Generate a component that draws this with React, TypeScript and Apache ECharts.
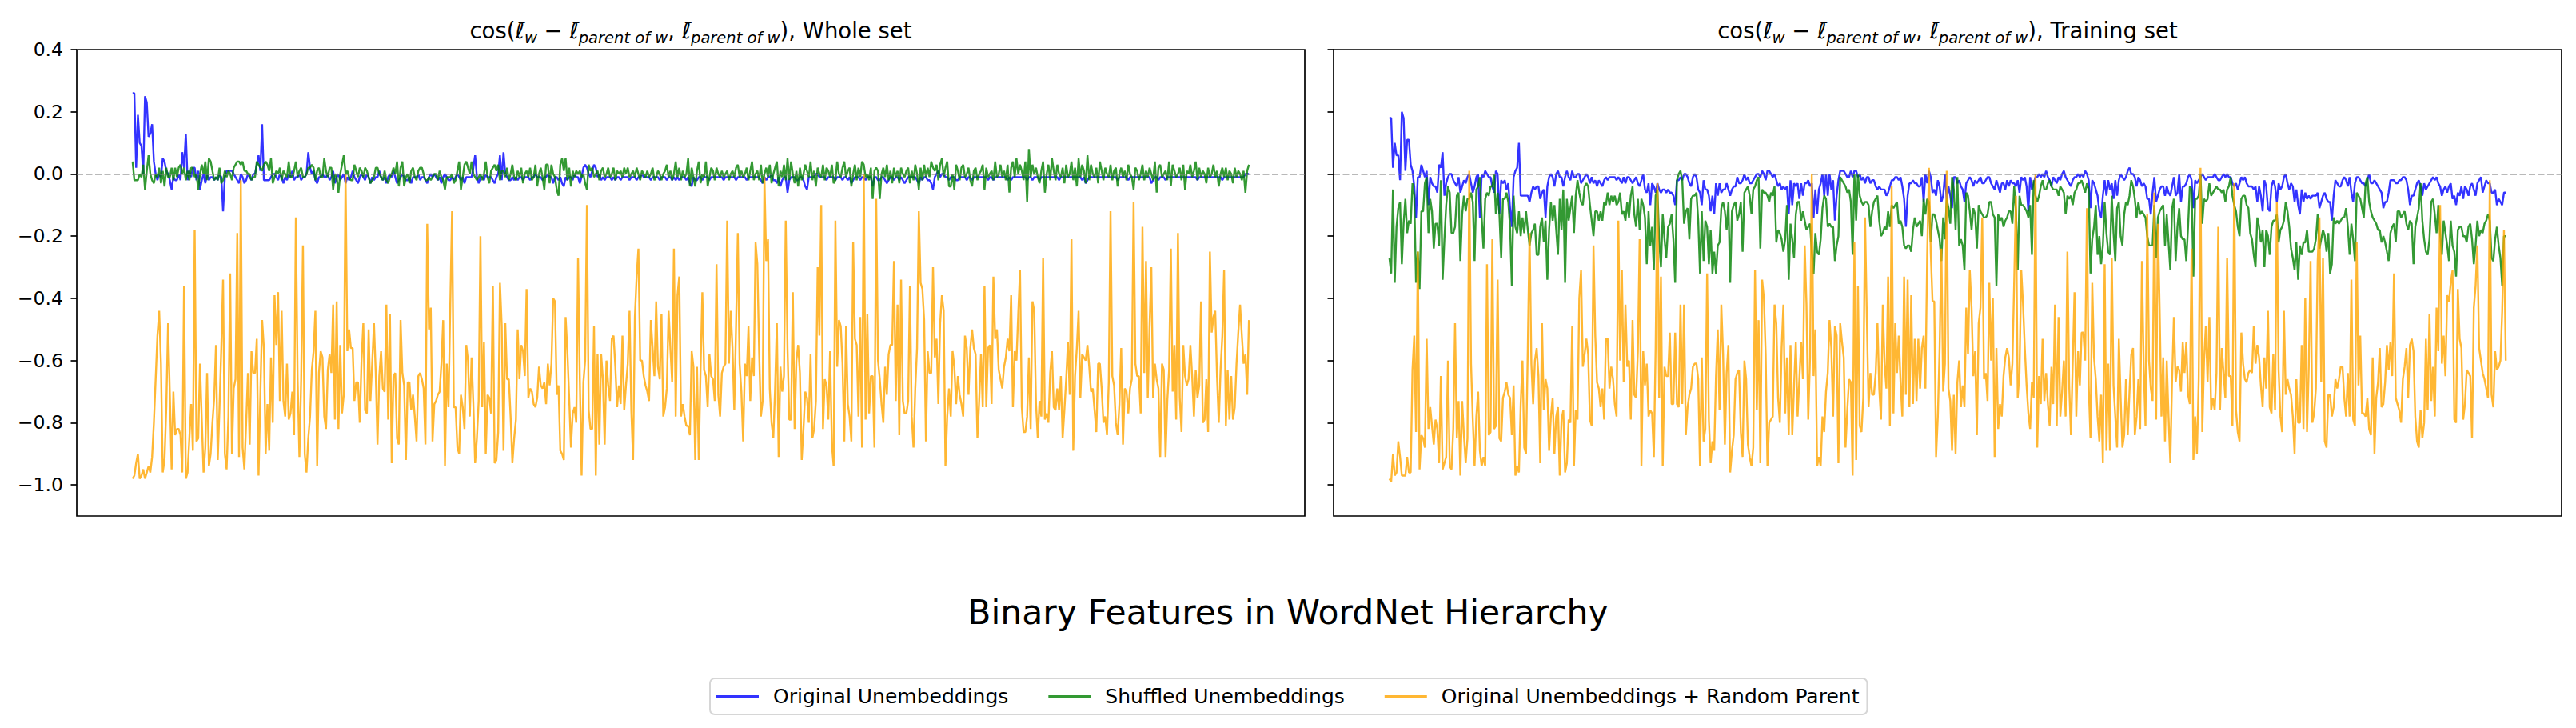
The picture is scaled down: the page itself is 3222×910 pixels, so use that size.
import React, { useEffect, useRef } from "react";
import * as echarts from "echarts";

// Values are cosine similarities in hundredths.
const VALUE_SCALE = 100;

const wholeOriginal = [
  26,26,2,19,10,9,0,25,23,12, 13,16,4,0,-2,0,-1,5,4,1, 0,-2,-5,-1,-2,-2,0,-2,7,2,
  13,-2,1,-1,2,2,-2,1,-5,-2, 0,-3,0,-2,-1,-1,-2,-1,-2,0, -1,-12,-1,1,1,1,1,0,-1,-2,
  -3,0,-1,-3,-2,0,-1,-2,0,0, 3,6,1,16,-2,-2,-2,-2,-1,0, 0,-1,-2,0,-1,-3,-1,-2,0,-1,
  1,-2,-1,-1,0,-2,-1,-1,0,7, 2,0,1,-2,-3,-1,-1,0,-1,-1, 0,-2,-1,1,-3,-1,0,-2,-1,0,
  -3,-1,-2,-1,1,-1,-2,-3,-1,0, -1,-2,0,-1,-3,-1,-2,-1,-1,1, -1,-2,-1,-3,-1,0,-1,1,-1,-3,
  -2,-1,0,-1,-2,-2,-1,-3,-1,-1, -1,0,-2,-1,-1,-2,-3,-1,0,-1, 0,-1,-2,-1,-3,-1,0,-1,-2,-2,
  -1,-2,-1,0,-1,-2,-1,-3,-1,-1, -1,-1,2,6,-1,-3,-1,-1,-2,0, -1,-1,-1,-2,-3,-1,0,6,-2,
  7,0,-1,-2,-2,-1,-2,-1,-2,-1, -1,-2,-1,-1,-1,-2,-1,-1,0,-1, -1,-1,-2,-1,-1,0,-1,-1,-3,-1,
  -1,-2,-1,-3,-4,-1,-2,-1,-1,-2, 0,-1,-1,-3,-1,2,3,2,0,-1, 1,3,2,-1,0,-2,-1,-2,-1,-1,
  -1,-2,-1,-2,-1,-1,-2,-1,-1,-1, -1,-2,-1,-1,-1,-2,-1,-1,0,-1, -1,-1,-1,-2,-1,-1,-1,-1,-2,-1,
  -1,-1,-2,-1,-1,-2,-1,-2,-1,-2, -1,-1,-1,-2,-1,-3,-4,-1,-2,-2, -1,-1,-2,-1,-1,-1,-2,-1,-1,-1,
  -1,-1,-1,-1,-2,-1,-1,-1,-1,-1, -1,-2,-1,-1,-1,-1,-1,-2,-1,-1, -1,-1,-1,-1,-1,-2,-3,-1,-2,-1,
  -1,0,-2,-2,-3,-1,-4,-2,-1,-1, -6,-2,-1,-1,-1,-2,-2,-1,-1,-2, -4,-5,-1,-1,-1,-1,0,0,-1,-1,
  -1,-1,-2,-1,-1,-1,-1,-2,-1,-1, -1,-2,-1,-1,-2,-1,-3,-2,-1,-1, -1,-2,-1,-1,-2,-1,-1,-1,-4,-1,
  -1,-2,
  -2,-1,-1,-2,-3,-2,-1,-1, -2,-1,-1,-2,-1,-2,-3,-2,-1,-1, -1,-1,-1,-2,-3,-1,-2,-1,-1,-2,
  -2,-3,-5,-1,0,1,-1,0,0,-1, -1,-2,-1,-1,-1,-2,-2,-1,-1,-1, -1,-2,-1,-1,-2,-1,-1,-1,-1,-1,
  -1,-1,-1,-2,-1,-1,-2,-1,-1,-1, -1,-1,-1,-1,-2,-1,-2,-1,-1,-1, -1,-1,-1,-1,-1,-2,-1,-1,-2,-1,
  -1,-1,-2,-1,-1,-1,-1,-1,-1,-1, -1,-1,-1,-2,-1,-1,-1,-1,-1,-1, -1,-1,-1,-1,-1,-1,-2,-1,-3,-2,
  -1,-1,-1,-1,-1,-1,-1,-1,-1,-1, -1,-1,-1,-1,-1,-1,-2,-1,-1,-1, -1,-1,-2,-1,-1,-1,-1,-1,-1,-1,
  -1,-1,-1,-1,-1,-3,-2,-1,-1,-2, -1,-1,-1,-2,-1,-1,-1,-1,-1,-1, -1,-1,-1,-1,-1,-1,-1,-1,-1,-1,
  -1,-2,-1,-1,-1,-1,-1,-1,-1,-1, -1,-1,-1,-1,-1,-2,-1,-1,-1,-1, -1,-1,-1,-1,-1,-1,-1,-1,0,0,
  0,
];

const wholeShuffled = [
  4,-2,-2,-2,0,-1,3,-5,1,6, 0,-2,-3,0,-1,2,-3,1,-4,2, -1,-1,2,-2,2,-1,2,3,0,2,
  -2,1,-2,2,2,-1,0,-5,0,3, 0,4,-2,5,4,1,-2,-1,-2,2, -3,-2,1,-1,1,0,-2,2,3,4,
  4,3,4,1,1,0,0,-2,-1,-1, 4,3,2,1,3,4,3,1,5,-3, -1,1,0,2,-2,1,0,-1,4,-1,
  -1,1,4,-1,1,2,-1,-1,0,2, 2,3,2,-2,1,2,-1,-1,5,1, -1,2,2,-5,0,-1,-6,0,3,6,
  0,1,-1,-2,-2,3,1,-1,2,1, -1,2,1,-1,-3,-2,-1,2,2,0, -1,-2,1,-2,-3,-1,0,2,0,4,
  -4,2,4,-4,-1,0,-3,1,2,-1, -2,1,2,2,0,-2,-2,-1,-2,-1, 0,0,-2,1,-1,-2,-5,-1,-1,-1,
  0,-3,-2,1,4,-5,-1,3,4,2, 0,4,0,-1,-2,-1,0,-2,0,4, -1,-3,1,2,3,1,3,-2,1,
  1,-1,2,-2,0,3,-1,-2,1,-1, 2,-3,0,1,-1,2,-2,-1,3,-4, 0,2,-1,-5,3,3,-3,3,0,-1,
  -5,-7,3,5,1,5,-2,2,-4,1, -1,1,0,1,-1,0,-3,-5,3,1, 2,-1,0,1,-2,1,2,-1,0,2,
  -1,0,2,-2,1,0,1,-1,2,0, 2,-1,0,1,-1,2,0,-2,1,0, -1,1,-1,0,2,-2,-1,1,0,-2,
  0,1,3,-1,1,-2,0,4,-1,2, -2,1,-1,0,5,-4,2,-1,-4,1, 4,-3,0,-1,4,-4,-1,2,1,-2,
  2,0,-1,1,-1,0,1,-2,0,1, -1,2,3,-1,1,-1,0,2,-2,1, 4,-2,0,1,-2,3,-3,0,2,-1,
  3,-3,0,2,4,-4,1,-1,3,-2, 5,-2,4,0,-3,1,-4,2,-2,0, 3,1,-1,4,-2,1,-4,2,0,-1,
  3,-2,2,1,-1,3,-3,-2,4,0, -1,2,4,-1,1,2,-4,0,3,-2, 2,-1,4,3,-1,0,-2,2,-8,1,
  2,1,
  -8,0,2,-1,3,-2,1,-3, 2,-1,1,-3,2,0,-1,1,2,-3, 1,-2,3,0,-5,2,-2,3,-1,2,
  -1,4,2,1,3,-2,3,5,-1,2, 4,-4,-4,0,-5,3,1,-2,2,3, -1,0,2,-2,-4,1,2,-2,0,1,
  3,-5,2,-1,0,1,-2,4,-1,0, 3,-1,1,-2,3,-6,2,4,-1,5, 0,3,1,-2,4,-9,8,-1,3,0,
  2,-1,-3,1,4,-6,0,3,-2,5, 1,-2,3,0,-1,2,-3,3,-1,0, 4,-2,2,-4,5,-1,3,1,-3,6,
  -2,3,0,-1,2,-3,4,1,-2,2, 0,-1,3,-2,1,2,-4,0,2,-1, 1,-2,3,0,-1,-5,2,1,-2,0,
  3,-2,1,-1,2,0,-2,4,-6,2, 3,-1,0,1,-2,4,-4,3,1,-1, 0,2,-2,3,-5,1,0,3,-1,1,
  4,-2,2,-1,1,0,-3,2,-1,0, 3,-1,1,-4,0,2,-1,2,-2,1, 0,-3,2,-1,1,0,-2,1,-6,1,
  3,
];

const wholeRandomParent = [
  -98,-97,-93,-90,-98,-97,-95,-98,-96,-94, -96,-91,-80,-66,-52,-44,-61,-96,-92,-75,
  -48,-71,-95,-70,-84,-82,-82,-84,-96,-36, -98,-96,-85,-74,-89,-18,-86,-85,-61,-79,
  -96,-88,-64,-94,-90,-80,-72,-55,-92,-75, -56,-34,-90,-95,-78,-32,-90,-69,-66,-19,
  -91,-2,-88,-95,-80,-64,-87,-57,-64,-64, -53,-97,-71,-47,-56,-90,-74,-89,-59,-80,
  -39,-55,-38,-73,-44,-73,-78,-61,-79,-77, -70,-84,-14,-66,-91,-66,-23,-90,-96,-85,
  -78,-63,-57,-44,-94,-64,-57,-59,-78,-82, -63,-58,-64,-42,-79,-41,-82,-55,-77,-71,
  0,-57,-50,-56,-56,-73,-67,-67,-80,-60, -48,-76,-77,-50,-73,-61,-48,-64,-87,-65,
  -57,-69,-70,-42,-79,-45,-93,-65,-64,-85, -87,-47,-64,-68,-92,-67,-67,-76,-71,-78,
  -86,-65,-64,-66,-69,-87,-16,-50,-43,-86, -74,-73,-71,-70,-61,-47,-94,-61,-75,-42,
  -12,-75,-75,-88,-90,-71,-75,-82,-55,-60, -78,-59,-74,-93,-85,-73,-20,-75,-54,-90,
  -71,-72,-77,-36,-93,-92,-83,-35,-49,
  -89,-48,-66,-66,-78,-93,-85,-79,-50,-66, -55,-57,-65,-37,-72,-69,-70,-74,-75,-72,
  -62,-68,-69,-67,-74,-61,-68,-61,-40,-41, -71,-68,-89,-90,-92,-46,-57,-72,-88,-77,
  -75,-80,-27,-66,-97,-67,-60,-10,-76,-82, -82,-49,-97,-58,-87,-58,-66,-87,-60,-68,
  -73,-53,-52,-62,-75,-68,-74,-52,-76,-68, -61,-44,-76,-92,-46,-33,-24,-60,-60,-65,
  -68,-70,-73,-47,-56,-65,-41,-62,-66,-45, -78,-75,-69,-44,-56,-67,-24,-78,-39,-33,
  -78,-74,-78,-81,-81,-84,-57,-62,-92,-62, -92,-63,-38,-63,-65,-75,-58,-65,-66,-73,
  -29,-71,-78,-64,-62,-61,-15,-61,-44,-56, -76,-49,-19,-61,-70,-86,-61,-65,-49,-73,
  -59,-65,-22,-29,-57,-78,-73,-1,-28,-21, -69,-80,-85,-69,-48,-91,-62,-70,-65,-15,
  -56,-79,-79,-38,-82,-60,-55,-64,-92,-82, -70,-72,-80,-58,-85,-82,-73,-30,-52,-10,
  -82,-66,-68,-79,-57,-87,-94,-15,-62,-47, -49,-61,-86,-49,-74,-78,-86,-22,-53,-55,
  -78,-46,-88,0,-79,-45,-77,-65,-65,-88, -8,-60,
  -66,-74,-80,-62,-71,-58,-55,-55, -28,-73,-42,-84,-34,-73,-77,-77,-73,-36,
  -78,-88,-69,-56,-12,-35,-37,-47,-86,-57, -64,-64,-30,-59,-53,-74,-48,-39,-44,-94,
  -78,-69,-78,-57,-62,-74,-65,-71,-74,-78, -52,-56,-71,-56,-50,-56,-58,-85,-73,-58,
  -75,-36,-75,-56,-55,-74,-33,-53,-50,-63, -66,-69,-62,-59,-53,-57,-39,-75,-57,-60,
  -45,-31,-75,-83,-83,-78,-59,-82,-41,-44, -74,-85,-73,-78,-27,-79,-77,-80,-64,-57,
  -75,-76,-69,-76,-65,-85,-76,-66,-54,-71, -21,-89,-65,-56,-44,-72,-58,-59,-60,-55,
  -62,-70,-69,-76,-83,-61,-61,-69,-80,-78, -84,-67,-12,-65,-68,-80,-84,-74,-56,-87,
  -69,-70,-77,-69,-66,-9,-61,-65,-65,-77, -17,-64,-28,-72,-49,-30,-72,-61,-66,-69,
  -91,-61,-63,-91,-73,-63,-24,-70,-55,-79, -19,-72,-83,-55,-65,-68,-66,-55,-65,-78,
  -63,-72,-68,-41,-80,-79,-66,-83,-25,-51, -46,-44,-65,-80,-63,-52,-31,-81,-63,-79,
  -65,-79,-75,-61,-51,-42,-52,-61,-58,-71, -47,
];

const trainOriginal = [
  18,18,2,10,6,6,-2,20,18,1, 11,11,3,1,-4,-14,-1,-1,3,1, -1,1,-10,-1,-3,-4,-4,-6,3,2,
  7,-7,-3,-1,0,0,-2,-3,-4,-1, -6,-4,-2,-3,-1,0,-3,-6,-4,-1, 0,-14,0,-1,1,0,-1,-1,-4,-6,
  1,0,-13,-2,-3,-2,-5,-3,-11,-17, -1,1,2,10,-7,-7,-7,-7,-7,-9, -6,-4,-5,-4,-4,-8,-6,-5,-14,-4,
  -1,0,-1,-4,0,1,-1,-1,-4,-1, 1,-1,-2,1,-1,-1,0,0,-3,-2, -1,0,-1,-3,-1,-3,-2,-4,-2,-3,
  -4,-2,-1,-2,-1,-1,-1,-1,-2,-1, -2,-3,-1,-3,-1,-1,-2,-3,-2,-1, -3,-4,-2,0,-5,-6,-3,-10,-3,-4,
  -6,-3,-5,-6,-5,-5,-6,-5,-6,-6, -7,-10,-2,-2,-1,-2,0,0,-1,-3, -4,-1,0,-1,-5,-6,-10,-2,-5,-5,
  -7,-12,-7,-13,-3,-7,-3,-6,-5,-5, -3,-5,-7,-5,-4,-4,-1,-3,-3,-2, 0,-2,-1,-3,-3,-2,-1,0,
  0,-1,1,0,-2,1,1,0,-1,0, -2,-4,-3,-5,-4,-5,-4,-13,-2,-10, -3,-4,-3,-8,-3,-7,-3,-3,-2,-4,
  -3,-14,-5,-13,-5,-3,0,-7,0,-7, 0,-5,-2,-15,-7,-2,1,1,1,0, -1,-1,1,-1,1,1,-1,0,-2,-1,
  -3,-1,-1,-3,-2,-2,-4,-5,-4,-5, -5,-5,-7,-6,-4,-2,-2,-1,-1,-2, -1,-4,-8,-17,-7,-3,-3,-2,-3,-3,
  -4,-4,-1,-9,0,-3,1,-1,-6,-5, -7,-2,-4,-9,-7,0,-8,-4,-7,-11, -1,-1,-3,-2,-4,-5,-9,-3,-2,-1,
  -2,-4,-2,-3,-2,-1,-3,-3,-2,-1, -1,-3,-4,-5,-2,-4,-6,-3,-3,-5, -2,-4,-2,-3,-3,-4,-2,-6,-1,-2,
  -1,-4,-12,-1,-5,-3,-1,-1,0,-1, 0,-1,1,-1,-2,-4,-1,-2,-3,-1, -2,0,1,-1,-2,-3,-4,-2,-1,-1,
  0,-1,0,-1,1,0,-2,-11,-2,-3, -5,-7,-12,-14,-7,-2,-7,-2,-5,-3, -8,-2,-7,-2,0,-1,-2,-1,1,2,
  0,0,
  -1,-4,-1,-2,-4,-3,-4,-8,-8,-13, -6,-1,-9,-7,-5,-4,-4,-7,-4,-6, -7,-4,-1,-7,-6,0,-9,-4,-4,-3,
  -1,0,-2,-11,-2,-3,-2,-1,0,-1, -2,-1,-1,-1,-1,0,-1,-2,-2,-1, 0,-1,0,-1,-1,-3,-4,-3,-5,-3,
  -1,-2,-1,-3,-4,-4,-4,-5,-4,-9, -4,-7,-12,-2,-4,-11,-12,-4,-2,-4, -9,-3,-5,-4,-1,0,-3,-5,-3,-4,
  -9,-5,-10,-13,-5,-9,-6,-8,-7,-8, -7,-7,-7,-6,-11,-9,-7,-6,-8,-9, -9,-15,-7,-2,-3,-4,-4,-2,-1,-2,
  -4,-1,-6,-9,-3,-1,-1,-2,-3,-3, -4,-2,0,-3,-3,-2,-3,-4,-5,-6, -11,-9,-9,-6,-2,-2,-2,-3,-3,-2,
  -2,-1,-1,-2,-5,-10,-7,-7,-5,-3, -2,-4,-7,-3,-5,-4,-3,-2,-1,-2, -1,-3,-4,-7,-5,-4,-6,-4,-3,-8,
  -7,-10,-6,-7,-4,-8,-4,-5,-7,-4, -3,-5,-7,-3,-2,-1,-6,-4,-2,-3, -3,-6,-6,-5,-10,-8,-9,-10,-6,-6,
];

const trainShuffled = [
  -27,-32,-5,-35,-17,-11,-9,-29,-16,-8, -19,-15,-16,-3,-7,-35,-25,-37,-12,-12,
  -3,-1,-19,-8,-12,-24,-16,-16,-23,-2, -34,-21,-10,-4,-6,-19,-19,-17,-7,-6,
  -28,-13,-7,-12,-8,-8,-6,-9,-28,-5, -4,-1,-14,-24,-8,-6,-7,-4,-4,0,
  -13,-6,-13,-27,-8,-8,-6,-9,-17,-36, -7,-17,-19,-12,-20,-14,-19,-12,-18,-23,
  -19,-18,-16,-26,-26,-17,-14,-22,-15,-34, -18,-9,-15,-10,-18,-26,-8,-18,-5,-35,
  -8,-15,-11,-7,-19,-7,-2,-6,-9,-10, -4,-3,-4,-10,-15,-20,-12,-12,-15,-12,
  -15,-9,-10,-6,-10,-7,-9,-7,-10,-9, -6,-13,-12,-15,-9,-14,-7,-4,-13,-17,
  -8,-18,-8,-10,-14,-29,-12,-23,-17,-31, -7,-5,-21,-30,-13,-21,-27,-17,-16,-13,
  -21,-35,-2,0,1,-2,-16,-12,-11,-21, -8,-7,-7,-6,-15,-32,-12,-28,-15,-17,
  -29,-18,-32,-25,-32,-23,-22,-11,-9,-12, -18,-9,-35,-12,-10,-9,-15,-13,-9,-25,
  -6,-5,-4,-7,-13,-5,-4,-2,
  -1,-24,-5,-6,-6,-7,-9,-6,-7,-4, -22,-18,-19,-21,-25,-21,-10,-34,-16,-21,
  -27,-13,-9,-9,-15,-12,-15,-18,-17,-16, -25,-32,-19,-25,-26,-21,-11,-7,-8,-17,
  -16,-17,-17,-28,-23,-20,-1,-2,-3,-4, -6,-5,-9,-26,0,-15,0,-7,-9,-10,
  -9,-9,-10,-17,-12,-9,-8,-7,-15,-20, -19,-17,-18,-12,-17,-10,-11,-10,-9,-16,
  -15,-17,-23,-24,-23,-23,-25,-18,-14,-17, -16,-15,-20,-8,-13,-8,-9,-22,-13,-13,
  -15,-18,-21,-28,-14,-21,-8,-11,-16,-1, -5,-18,-1,-23,-21,-23,-31,-6,-7,-12,
  -18,-11,-13,-24,-10,-12,-13,-14,-14,-13, -9,-9,-13,-14,-36,-13,-15,-14,-17,-15,
  -14,-12,-12,-16,-4,-12,-31,-7,-10,-10, -11,-12,-14,-10,-26,-2,-7,-9,-7,-4,
  -2,-5,-5,-3,-2,-4,-5,-5,-5,-7, -4,-5,-6,-13,-7,-8,-7,-10,-6,-5,
  -3,-3,-2,-4,-6,-3,-5,-32,-21,-17, -10,-26,-20,-29,-23,-9,-19,-25,-26,-7,
  -19,-28,-11,-9,-20,-23,-13,-9,-10,-7, -2,-4,
  -8,-14,-9,-13,-12,-13,-14,-20,-23,-23, -23,-10,-27,-14,-12,-11,-10,-23,-13,-22,
  -31,-11,-8,-28,-17,-11,-20,-21,-21,-28, -17,-4,-5,-33,-8,-8,-7,0,-16,-8,
  -9,-8,-3,-7,-6,-5,-4,-5,-5,-6, -5,-9,-5,-4,-1,-7,-10,-12,-17,-20,
  -8,-7,-7,-10,-11,-19,-21,-26,-30,-14, -17,-22,-18,-30,-18,-20,-26,-17,-15,-15,
  -13,-22,-18,-17,-15,-9,-12,-17,-24,-27, -31,-22,-34,-23,-26,-22,-22,-18,-25,-25,
  -25,-24,-21,-13,-24,-21,-18,-20,-25,-19, -32,-29,-14,-16,-15,-16,-15,-14,-14,-11,
  -17,-26,-16,-21,-28,-6,-7,-8,-11,-14, -3,-1,-9,-12,-14,-15,-16,-18,-18,-22,
  -20,-22,-25,-28,-19,-17,-16,-22,-12,-12, -14,-13,-12,-16,-18,-15,-16,-29,-17,-14,
  -11,-3,-15,-21,-25,-26,-21,-9,-8,-13, -19,-10,-19,-26,-15,-19,-23,-28,-15,-23,
  -25,-33,-18,-17,-17,-20,-20,-22,-17,-16, -21,-29,-23,-15,-20,-18,-19,-16,-15,-13,
  -15,-27,-28,-21,-17,-23,-27,-36,-20,-20,
];

const trainRandomParent = [
  -98,-99,-90,-97,-96,-86,-91,-97,-97,-97, -91,-96,-96,-63,-52,-83,-25,-95,-84,-85,
  -88,-53,-82,-75,-81,-87,-79,-82,-93,-65, -95,-93,-91,-60,-94,-95,-82,-48,-85,-73,
  -97,-73,-84,-93,-85,1,-61,-79,-94,-78, -70,-89,-94,-91,-94,-29,-84,-83,-21,-82,
  -81,-34,-85,-86,-72,-70,-67,-71,-72,-84, -68,-97,-94,-96,-74,-60,-88,-90,-56,-19,
  -61,-74,-60,-56,-65,-93,-48,-76,-66,-69, -89,-78,-72,-90,-78,-75,-97,-79,-76,-96,
  -93,-79,-80,-49,-94,-76,-79,-40,-31,-62, -58,-53,-58,-79,-81,-23,-52,-67,-69,-75,
  -69,-79,-53,-53,-69,-62,-66,-74,-78,-15, -60,-31,-67,-42,-62,-60,-79,-47,-71,-72,
  -57,-21,-94,-57,-68,-61,-78,-76,-77,-91, -56,-3,-72,-33,-94,-62,-65,-65,-51,-74,
  -74,-51,-74,-75,-42,-74,-42,-84,-75,-71, -69,-62,-61,-61,-66,-94,-59,-86,-82,-32,
  -79,-93,-86,-89,-65,-50,-76,-42,-58,-87, -64,-55,-96,-89,-84,-66,-64,-63,-83,-91,
  -60,-66,-87,-91,-94,-88,-31,-76,
  -47,-93,-34,-40,-58,-94,-80,-79,-78,-42, -48,-72,-80,-56,-42,-77,-59,-84,-55,-84,
  -68,-54,-78,-66,-54,-66,-23,-42,-79,-59, 0,-65,-50,-94,-91,-94,-78,-83,-70,-64,
  -47,-56,-78,-49,-52,-93,-48,-54,-59,-88, -76,-66,-67,-97,-22,-92,-36,-81,-83,-72,
  -14,-46,-75,-64,-71,-71,-64,-48,-69,-79, -42,-61,-69,-33,-81,-4,-77,-48,-64,-52,
  -67,-78,-33,-71,-34,-75,-39,-74,-53,-73, -53,-69,-56,-52,-69,-26,2,-25,-41,-41,
  -91,-78,-56,-24,-70,-61,1,-69,-73,-89, -71,-90,-67,-60,-75,-68,-75,-43,-58,-31,
  -43,-65,-57,-84,-48,-43,-14,-66,-64,-73, -35,-60,-40,-91,-56,-82,-74,-78,-65,-59,
  -56,-59,-68,-61,-35,-7,-72,-64,-31,-42, -56,-68,-77,-82,-67,-72,0,-88,-65,-74,
  -53,-73,-64,-74,-81,-62,-74,-42,-81,-46, -78,-70,-60,-78,-25,-68,-84,-61,-38,-78,
  -57,-68,-51,-51,-60,-11,-68,-85,-35,-59, -66,-78,-86,-71,-93,-29,-89,-61,-89,-27,
  -68,-78,-88,-53,-72,-88,-84,-66,-84,-70, -58,-56,
  -84,-78,-66,-82,-28,-62,-81,-13,-60,-69, -73,-6,-79,-16,-44,-78,-59,-86,-60,-78,
  -93,-66,-46,-67,-62,-63,-70,-54,-64,-54, -71,-74,-24,-92,-78,-90,-66,2,-83,-60,
  -49,-67,-46,-76,-72,-76,-64,-17,-76,-56, -64,-72,-27,-65,-65,-81,-3,-76,-83,-86,
  -51,-61,-66,-67,-64,-63,-64,-49,-61,-55, -59,-68,-75,-59,-69,-44,-75,-77,-58,-76,
  -9,-63,-78,-83,-44,-71,-66,-69,-71,-78, -90,-66,-80,-80,-55,-82,-40,-83,-62,-28,
  -80,-77,-69,-28,-14,-67,-27,-86,-88,-71, -71,-78,-75,-66,-69,-66,-62,-62,-72,-78,
  -64,-78,-34,-79,-81,-22,-68,-52,-77,-77, -78,-72,-82,-84,-59,-90,-72,-67,-56,-75,
  -74,-67,-55,-63,-54,-65,-32,-72,-74,-76, -80,-66,-62,-56,-72,-55,-53,-57,-78,-86,
  -88,-76,-85,-80,-53,-76,-45,-73,-62,-78, -43,-57,-10,-61,-52,-65,-39,-41,-35,-31,
  -79,-80,-37,-53,-56,-79,-74,-63,-64,-65, -85,-43,-36,-23,-56,-60,-64,-66,-69,-72,
  -2,-71,-75,-57,-63,-62,-60,-44,-18,-60,
];

const yTicks = [-1.0, -0.8, -0.6, -0.4, -0.2, 0.0, 0.2, 0.4];
const seriesNames = [
  "Original Unembeddings",
  "Shuffled Unembeddings",
  "Original Unembeddings + Random Parent",
];
const panelSubsets = ["Whole set", "Training set"];
const figureTitle = "Binary Features in WordNet Hierarchy";

const COLORS = ["rgba(0,0,255,0.8)", "rgba(0,128,0,0.8)", "rgba(255,165,0,0.8)"];
const FONT = "DejaVu Sans";
const W = 3222;
const H = 910;

const GRIDS = [
  { left: 96, top: 62, width: 1536, height: 583 },
  { left: 1668, top: 62, width: 1536, height: 583 },
];

const fmtTick = (v: number) => {
  const s = Math.abs(v).toFixed(1);
  return v < -1e-9 ? "\u2212" + s : s;
};

const L = "\u2113\u0304";
const titleText = (subset: string) =>
  `{m|cos(}{i|${L}}{s|w}{m| \u2212 }{i|${L}}{s|parent of w}{m|, }{i|${L}}{s|parent of w}{m|), ${subset}}`;

const titleRich = {
  m: { fontSize: 27.5, fontFamily: FONT, lineHeight: 38, verticalAlign: "middle", fill: "#000" },
  i: { fontSize: 27.5, fontFamily: FONT, fontStyle: "italic", lineHeight: 38, verticalAlign: "middle", fill: "#000" },
  s: { fontSize: 19.5, fontFamily: FONT, fontStyle: "italic", lineHeight: 38, verticalAlign: "bottom", fill: "#000" },
};

function buildOption() {
  const panels = [
    [wholeOriginal, wholeShuffled, wholeRandomParent],
    [trainOriginal, trainShuffled, trainRandomParent],
  ];

  const xAxis = panels.map((p, k) => {
    const n = Math.max(...p.map((a) => a.length));
    const pad = 0.05 * (n - 1);
    return { type: "value", gridIndex: k, min: -pad, max: n - 1 + pad, show: false };
  });

  const yAxis = panels.map((_, k) => ({
    type: "value",
    gridIndex: k,
    min: -1.1,
    max: 0.4,
    position: "left",
    splitLine: { show: false },
    axisLine: { show: false, onZero: false },
    axisTick: {
      show: true,
      customValues: yTicks,
      length: 7.5,
      inside: false,
      lineStyle: { color: "#000", width: 1.7 },
    },
    axisLabel: {
      show: k === 0,
      customValues: yTicks,
      formatter: fmtTick,
      margin: 17,
      color: "#000",
      fontSize: 23.5,
      fontFamily: FONT,
    },
  }));

  const series: any[] = [];
  panels.forEach((p, k) => {
    p.forEach((arr, j) => {
      series.push({
        type: "line",
        name: seriesNames[j],
        xAxisIndex: k,
        yAxisIndex: k,
        data: arr.map((v, i) => [i, v / VALUE_SCALE]),
        showSymbol: false,
        symbol: "none",
        color: COLORS[j],
        itemStyle: { color: COLORS[j] },
        lineStyle: { width: 2.4, color: COLORS[j] },
        z: 2 + j,
        silent: true,
      });
    });
    series.push({
      type: "line",
      xAxisIndex: k,
      yAxisIndex: k,
      data: [],
      silent: true,
      markLine: {
        silent: true,
        symbol: ["none", "none"],
        label: { show: false },
        lineStyle: { color: "rgba(128,128,128,0.55)", width: 2.1, type: [8, 3.5] },
        data: [{ yAxis: 0 }],
        z: 6,
      },
    });
  });

  return {
    animation: false,
    backgroundColor: "#fff",
    textStyle: { fontFamily: FONT },
    grid: GRIDS.map((g) => ({
      ...g,
      show: true,
      borderColor: "#000",
      borderWidth: 1.7,
      backgroundColor: "transparent",
      containLabel: false,
    })),
    xAxis,
    yAxis,
    legend: {
      data: seriesNames,
      left: 888,
      top: 848,
      orient: "horizontal",
      icon: "rect",
      itemWidth: 53,
      itemHeight: 3.2,
      itemGap: 50,
      padding: [8, 10, 8, 8],
      borderColor: "#d6d6d6",
      borderWidth: 2,
      borderRadius: 6,
      backgroundColor: "rgba(255,255,255,0.8)",
      selectedMode: false,
      textStyle: { fontSize: 25, fontFamily: FONT, color: "#000", padding: [0, 0, 0, 13], lineHeight: 29 },
    },
    graphic: [
      ...GRIDS.map((g, k) => ({
        type: "text",
        x: g.left + g.width / 2,
        y: 38,
        style: {
          text: titleText(panelSubsets[k]),
          rich: titleRich,
          align: "center",
          verticalAlign: "middle",
          fill: "#000",
          fontSize: 27.5,
          fontFamily: FONT,
        },
      })),
      {
        type: "text",
        x: W / 2,
        y: 765,
        style: {
          text: figureTitle,
          fontSize: 42.5,
          fontFamily: FONT,
          fill: "#000",
          align: "center",
          verticalAlign: "middle",
        },
      },
    ],
    series,
  };
}

export default function App() {
  const ref = useRef<HTMLDivElement>(null);
  useEffect(() => {
    document.body.style.margin = "0";
    const chart = echarts.init(ref.current as HTMLDivElement, null, { renderer: "svg", width: W, height: H });
    chart.setOption(buildOption() as any);
    return () => chart.dispose();
  }, []);
  return (
    <div
      ref={ref}
      style={{ position: "absolute", left: 0, top: 0, width: W, height: H, background: "#fff" }}
    />
  );
}
